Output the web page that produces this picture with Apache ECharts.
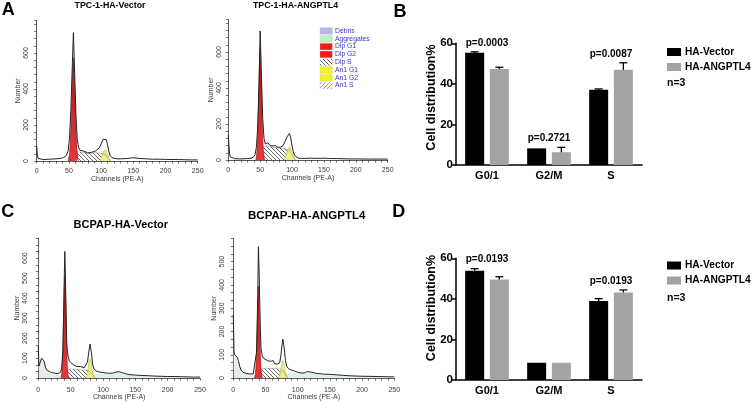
<!DOCTYPE html>
<html><head><meta charset="utf-8">
<script src="https://cdn.jsdelivr.net/npm/echarts@6/dist/echarts.min.js"></script>
<style>html,body{margin:0;padding:0;background:#fff}#c{width:753px;height:402px}</style>
</head><body><div id="c"></div>
<script>
// ---------- DATA ----------
const cats = ['G0/1', 'G2/M', 'S'];
const seriesNames = ['HA-Vector', 'HA-ANGPTL4'];
// Panel B
const bVector = [55.4, 8.2, 37.1];
const bVectorSD = [0.4, 0, 0.4];
const bAngptl4 = [47.3, 6.3, 47.0];
const bAngptl4SD = [0.9, 2.4, 3.4];
const bPvalues = ['p=0.0003', 'p=0.2721', 'p=0.0087'];
// Panel D
const dVector = [53.9, 8.5, 38.9];
const dVectorSD = [1.0, 0, 1.2];
const dAngptl4 = [49.6, 8.5, 43.2];
const dAngptl4SD = [1.3, 0, 1.2];
const dPvalues = ['p=0.0193', '', 'p=0.0193'];
const histTitles = ['TPC-1-HA-Vector', 'TPC-1-HA-ANGPTL4', 'BCPAP-HA-Vector', 'BCPAP-HA-ANGPTL4'];
const legendItems = ['Debris', 'Aggregates', 'Dip G1', 'Dip G2', 'Dip S', 'An1 G1', 'An1 G2', 'An1 S'];
const histXTicks = [0, 50, 100, 150, 200, 250];

// Histogram TPC-1 Vector  [channel, count]
const aVecTotal = [[0,80],[1,40],[2,15],[4,10],[10,8],[20,10],[30,12],[38,15],[42,20],[46,30],[49,60],[51,130],[53,280],[55,500],[57,713],[59,480],[61,250],[63,120],[65,75],[67,60],[70,58],[73,55],[76,50],[79,45],[82,42],[85,48],[88,52],[91,55],[94,60],[97,72],[100,95],[103,120],[106,130],[108,118],[110,90],[112,55],[114,30],[117,18],[120,14],[125,12],[130,12],[140,14],[150,18],[160,14],[170,12],[180,10],[190,10],[200,9],[210,8],[220,8],[230,7],[240,6],[250,6]];
const aVecG1 = [[49,0],[50,10],[51,40],[52,90],[53,170],[54,280],[55,410],[56,520],[57,574],[58,520],[59,410],[60,280],[61,170],[62,90],[63,40],[64,10],[65,0]];
const aVecG2 = [[98,0],[100,15],[102,35],[104,58],[106,69],[108,58],[110,35],[112,15],[114,4],[115,0]];
const aVecS = [[52,0],[55,28],[58,42],[64,50],[70,50],[76,46],[80,41],[85,44],[90,46],[96,45],[102,42],[107,34],[111,18],[114,0]];
// Histogram TPC-1 ANGPTL4
const aAngTotal = [[0,140],[1,80],[2,35],[3,18],[5,10],[10,7],[20,6],[30,8],[36,10],[40,18],[42,30],[44,70],[46,170],[48,400],[50,717],[52,460],[54,230],[56,120],[58,90],[60,85],[62,95],[64,88],[66,80],[68,85],[70,78],[72,75],[74,80],[76,72],[78,70],[80,75],[82,72],[84,70],[86,80],[88,95],[90,110],[92,128],[94,135],[96,148],[98,120],[100,80],[102,45],[104,25],[106,15],[110,10],[120,9],[130,10],[140,9],[150,10],[160,8],[170,8],[180,7],[190,6],[200,6],[220,5],[250,5]];
const aAngG1 = [[43,0],[44,15],[45,50],[46,120],[47,240],[48,390],[49,540],[50,620],[51,540],[52,390],[53,240],[54,120],[55,50],[56,15],[57,0]];
const aAngG2 = [[88,0],[90,15],[92,38],[94,62],[96,74],[98,62],[100,38],[102,15],[104,3],[105,0]];
const aAngS = [[46,0],[49,35],[53,65],[58,78],[64,76],[70,72],[76,68],[82,66],[88,64],[94,56],[98,42],[102,20],[105,0]];
// Histogram BCPAP Vector
const cVecTotal = [[0,160],[1,60],[3,70],[5,100],[7,104],[9,85],[11,55],[13,40],[16,32],[20,28],[25,25],[30,22],[34,28],[36,45],[38,140],[39,300],[40,480],[41,633],[42,500],[43,330],[44,180],[45,135],[46,110],[48,85],[50,75],[53,70],[56,62],[59,58],[62,55],[65,58],[68,55],[71,52],[74,58],[76,80],[78,130],[80,170],[82,130],[84,70],[86,45],[90,35],[95,30],[100,28],[105,25],[110,24],[115,25],[120,30],[125,32],[130,27],[135,22],[140,18],[150,15],[160,13],[170,12],[180,10],[190,9],[200,8],[210,8],[220,7],[230,6],[240,5],[250,5]];
const cVecG1 = [[35,0],[36,15],[37,50],[38,130],[39,270],[40,430],[41,509],[42,430],[43,270],[44,130],[45,50],[46,15],[47,0]];
const cVecG2 = [[73,0],[75,15],[77,50],[78,75],[80,96],[82,75],[83,50],[85,15],[87,0]];
const cVecS = [[38,0],[42,25],[46,42],[52,45],[60,43],[68,41],[74,40],[79,34],[84,18],[88,0]];
const cVecDebris = [[0,150],[1,55],[3,62],[5,92],[7,96],[9,78],[11,48],[13,33],[16,24],[20,20],[30,15],[40,12],[60,10],[80,12],[90,22],[100,22],[110,20],[120,26],[125,28],[130,23],[140,15],[160,11],[200,7],[250,4]];
// Histogram BCPAP ANGPTL4
const cAngTotal = [[0,273],[1,120],[2,100],[4,98],[6,90],[8,75],[10,50],[12,35],[15,25],[20,20],[25,18],[28,22],[31,18],[34,25],[36,110],[37,220],[38,360],[39,564],[40,470],[41,330],[42,210],[43,130],[45,95],[47,85],[50,80],[53,75],[56,70],[58,72],[60,65],[62,75],[64,62],[66,68],[68,60],[70,58],[72,65],[74,100],[76,150],[77,167],[79,130],[81,75],[83,50],[86,40],[90,35],[95,30],[100,25],[105,22],[110,22],[115,28],[118,32],[122,25],[130,20],[140,17],[150,16],[160,14],[170,12],[180,10],[190,9],[200,8],[220,7],[250,5]];
const cAngG1 = [[33,0],[34,12],[35,40],[36,100],[37,200],[38,320],[39,394],[40,320],[41,200],[42,100],[43,40],[44,12],[45,0]];
const cAngG2 = [[70,0],[72,12],[74,38],[75,58],[77,75],[79,58],[80,38],[82,12],[84,0]];
const cAngS = [[36,0],[40,22],[44,40],[52,43],[60,41],[68,40],[73,38],[78,28],[82,10],[85,0]];
const cAngDebris = [[0,260],[1,110],[3,92],[6,82],[9,58],[12,30],[15,20],[20,16],[30,13],[40,10],[60,9],[75,10],[90,25],[100,20],[110,19],[118,26],[125,20],[140,13],[160,11],[200,6],[250,4]];

// ---------- STYLE / LAYOUT ----------
const FONT = '"Liberation Sans", Arial, sans-serif';
function hatch(color, back) {
  const s = 4, c = document.createElement('canvas');
  c.width = s; c.height = s;
  const g = c.getContext('2d');
  g.fillStyle = '#fff'; g.fillRect(0, 0, s, s);
  g.strokeStyle = color; g.lineWidth = 0.8;
  g.beginPath();
  if (back) { g.moveTo(0, 0); g.lineTo(s, s); g.moveTo(-1, s - 1); g.lineTo(1, s + 1); g.moveTo(s - 1, -1); g.lineTo(s + 1, 1); }
  else { g.moveTo(0, s); g.lineTo(s, 0); g.moveTo(-1, 1); g.lineTo(1, -1); g.moveTo(s - 1, s + 1); g.lineTo(s + 1, s - 1); }
  g.stroke();
  return c;
}
const hatchDark = hatch('#444', true);
const hatchLight = hatch('#888', false);
const redFill = {type:'linear',x:0,y:0,x2:0,y2:1,colorStops:[{offset:0,color:'#b3191c'},{offset:1,color:'#ef3535'}]};
const yellowFill = '#eeee86';
const debrisFill = '#e3eeec';

const hists = [
  {total:aVecTotal, g1:aVecG1, g2:aVecG2, s:aVecS, debris:null, grid:{left:36.7,top:20.6,width:161,height:140.4}, max:780, int:40, lab:200, xm:7, xng:13.5, ym:7, yng:14},
  {total:aAngTotal, g1:aAngG1, g2:aAngG2, s:aAngS, debris:null, grid:{left:228.3,top:19.6,width:159.4,height:140.4}, max:780, int:40, lab:200, xm:7, xng:13.5, ym:5.5, yng:13},
  {total:cVecTotal, g1:cVecG1, g2:cVecG2, s:cVecS, debris:cVecDebris, grid:{left:38.3,top:238.1,width:161.7,height:141.2}, max:700, int:100/3, lab:100, xm:8, xng:15.5, ym:10, yng:15},
  {total:cAngTotal, g1:cAngG1, g2:cAngG2, s:cAngS, debris:cAngDebris, grid:{left:233.3,top:238.3,width:161,height:141}, max:600, int:100/3, lab:100, xm:8, xng:15.5, ym:8, yng:14}
];
const isMult = (v, m) => Math.abs(v / m - Math.round(v / m)) < 1e-6;

const grid = [], xAxis = [], yAxis = [], series = [];
const axisCol = '#333';
hists.forEach((h, i) => {
  grid.push(h.grid);
  xAxis.push({gridIndex:i, type:'value', min:0, max:250, interval:10,
    axisLine:{lineStyle:{color:axisCol,width:0.8}}, axisTick:{length:2.5,lineStyle:{color:axisCol,width:0.7}},
    splitLine:{show:false},
    axisLabel:{fontSize:7, color:'#3a3a3a', fontFamily:FONT, margin:h.xm, formatter:v => histXTicks.includes(v) ? String(v) : ''},
    name:'Channels (PE-A)', nameLocation:'middle', nameGap:h.xng, nameTextStyle:{fontSize:7,color:'#3a3a3a',fontFamily:FONT}});
  yAxis.push({gridIndex:i, type:'value', min:0, max:h.max, interval:h.int,
    axisLine:{show:true,lineStyle:{color:axisCol,width:0.8}}, axisTick:{show:true,length:2.5,lineStyle:{color:axisCol,width:0.7}},
    splitLine:{show:false},
    axisLabel:{rotate:90, fontSize:7, color:'#3a3a3a', fontFamily:FONT, margin:h.ym, formatter:v => isMult(v, h.lab) && v < h.max ? String(Math.round(v)) : ''},
    name:'Number', nameLocation:'middle', nameGap:h.yng, nameTextStyle:{fontSize:7,color:'#3a3a3a',fontFamily:FONT}});
  const base = {type:'line', xAxisIndex:i, yAxisIndex:i, showSymbol:false, symbol:'none', silent:true, animation:false};
  if (h.debris) series.push(Object.assign({}, base, {data:h.debris, lineStyle:{width:0}, areaStyle:{color:debrisFill, opacity:1}}));
  series.push(Object.assign({}, base, {data:h.s, lineStyle:{width:0.4,color:'#666'}, areaStyle:{color:{image:hatchDark,repeat:'repeat'}, opacity:1}}));
  series.push(Object.assign({}, base, {data:h.g1, lineStyle:{width:0.6,color:'#8a1010'}, areaStyle:{color:redFill, opacity:1}}));
  series.push(Object.assign({}, base, {data:h.g2, lineStyle:{width:0.5,color:'#a8a840'}, areaStyle:{color:yellowFill, opacity:1}}));
  series.push(Object.assign({}, base, {data:h.total, lineStyle:{width:1,color:'#222'}}));
});

// bar panels
const bars = [
  {v:bVector, vs:bVectorSD, a:bAngptl4, as:bAngptl4SD, p:bPvalues, grid:{left:456,top:43.3,width:186,height:121.7}},
  {v:dVector, vs:dVectorSD, a:dAngptl4, as:dAngptl4SD, p:dPvalues, grid:{left:456,top:258.3,width:186,height:121.7}}
];
const BW = 19, GAP = 0.3, OFF = (BW * (1 + GAP)) / 2;
bars.forEach((b, k) => {
  const i = 4 + k;
  grid.push(b.grid);
  xAxis.push({gridIndex:i, type:'category', data:cats, axisLine:{lineStyle:{color:'#000',width:1.5}}, axisTick:{show:false},
    axisLabel:{fontWeight:'bold', fontSize:11, color:'#000', fontFamily:FONT, margin:5}});
  yAxis.push({gridIndex:i, type:'value', min:0, max:60, interval:20, axisLine:{show:true,lineStyle:{color:'#000',width:1.5}},
    axisTick:{show:true,length:4,lineStyle:{color:'#000',width:1.5}}, splitLine:{show:false},
    axisLabel:{fontWeight:'bold', fontSize:11.5, color:'#000', fontFamily:FONT, margin:3}});
  series.push({type:'bar', name:seriesNames[0], xAxisIndex:i, yAxisIndex:i, data:b.v, barWidth:BW, barGap:(GAP*100)+'%', itemStyle:{color:'#000'}, animation:false});
  series.push({type:'bar', name:seriesNames[1], xAxisIndex:i, yAxisIndex:i, data:b.a, barWidth:BW, barGap:(GAP*100)+'%', itemStyle:{color:'#a3a3a3'}, animation:false});
  const errData = [];
  cats.forEach((c, j) => { errData.push([j, b.v[j], b.vs[j], -1]); errData.push([j, b.a[j], b.as[j], 1]); });
  series.push({type:'custom', xAxisIndex:i, yAxisIndex:i, data:errData, silent:true, animation:false, z:5,
    renderItem:(params, api) => {
      const j = api.value(0), m = api.value(1), s = api.value(2), side = api.value(3);
      if (!(s > 0)) return null;
      const p0 = api.coord([j, m]), p1 = api.coord([j, m + s]);
      const x = p0[0] + side * OFF;
      return {type:'group', children:[
        {type:'line', shape:{x1:x,y1:p0[1],x2:x,y2:p1[1]}, style:{stroke:'#000',lineWidth:1.3}},
        {type:'line', shape:{x1:x-4,y1:p1[1],x2:x+4,y2:p1[1]}, style:{stroke:'#000',lineWidth:1.3}}
      ]};
    }});
  const pData = cats.map((c, j) => [j, Math.max(b.v[j] + b.vs[j], b.a[j] + b.as[j]) + 4.4, j]);
  series.push({type:'custom', xAxisIndex:i, yAxisIndex:i, data:pData, silent:true, animation:false, z:6,
    renderItem:(params, api) => {
      const j = api.value(0), y = api.value(1);
      const txt = b.p[j];
      if (!txt) return null;
      const p = api.coord([j, y]);
      return {type:'text', x:p[0], y:p[1], style:{text:txt, fill:'#000', font:'bold 10px ' + FONT, textAlign:'center', textVerticalAlign:'middle'}};
    }});
});

// graphics
const graphic = [];
const letter = (t, x, y) => graphic.push({type:'text', x, y, style:{text:t, font:'bold 18px ' + FONT, fill:'#000', textAlign:'center', textVerticalAlign:'middle'}});
letter('A', 8.3, 10); letter('B', 400, 12); letter('C', 7.7, 212.5); letter('D', 398.8, 212);
const titlePos = [[110, 5.3, 8.8], [295.5, 5.2, 8.8], [120.8, 225, 11], [306.7, 216, 11.5]];
histTitles.forEach((t, i) => graphic.push({type:'text', x:titlePos[i][0], y:titlePos[i][1],
  style:{text:t, font:'bold ' + titlePos[i][2] + 'px ' + FONT, fill:'#000', textAlign:'center', textVerticalAlign:'middle'}}));
const legFills = ['#b6b6ef', '#bff0bf', '#ee1c1c', '#ee1c1c', {image:hatchDark,repeat:'repeat'}, '#f2f21e', '#f2f21e', {image:hatchLight,repeat:'repeat'}];
legendItems.forEach((t, i) => {
  const yc = 31 + i * 7.8;
  graphic.push({type:'rect', shape:{x:320, y:yc - 3.3, width:12.3, height:6.6}, style:{fill:legFills[i], stroke:'#bbb', lineWidth:0.3}});
  graphic.push({type:'text', x:335, y:yc, style:{text:t, font:'6.8px ' + FONT, fill:'#3535c8', textVerticalAlign:'middle'}});
});
[[97.5], [308]].forEach((p) => graphic.push({type:'text', x:432, y:p[0], rotation:Math.PI / 2,
  style:{text:'Cell distribution%', font:'bold 12.5px ' + FONT, fill:'#000', textAlign:'center', textVerticalAlign:'middle'}}));
[[83], [298]].forEach((p) => graphic.push({type:'text', x:667, y:p[0],
  style:{text:'n=3', font:'bold 10.5px ' + FONT, fill:'#000', textVerticalAlign:'middle'}}));

const legendBase = {data:seriesNames, orient:'vertical', left:667, itemWidth:14, itemHeight:8, itemGap:5, icon:'rect', selectedMode:false,
  textStyle:{fontWeight:'bold', fontSize:10.2, color:'#000', fontFamily:FONT, padding:[0,0,0,-1]}, padding:0};

const chart = echarts.init(document.getElementById('c'), null, {renderer:'canvas'});
chart.setOption({
  animation:false,
  textStyle:{fontFamily:FONT},
  grid, xAxis, yAxis, series, graphic,
  legend:[Object.assign({}, legendBase, {top:47}), Object.assign({}, legendBase, {top:260.5})]
});
</script></body></html>
